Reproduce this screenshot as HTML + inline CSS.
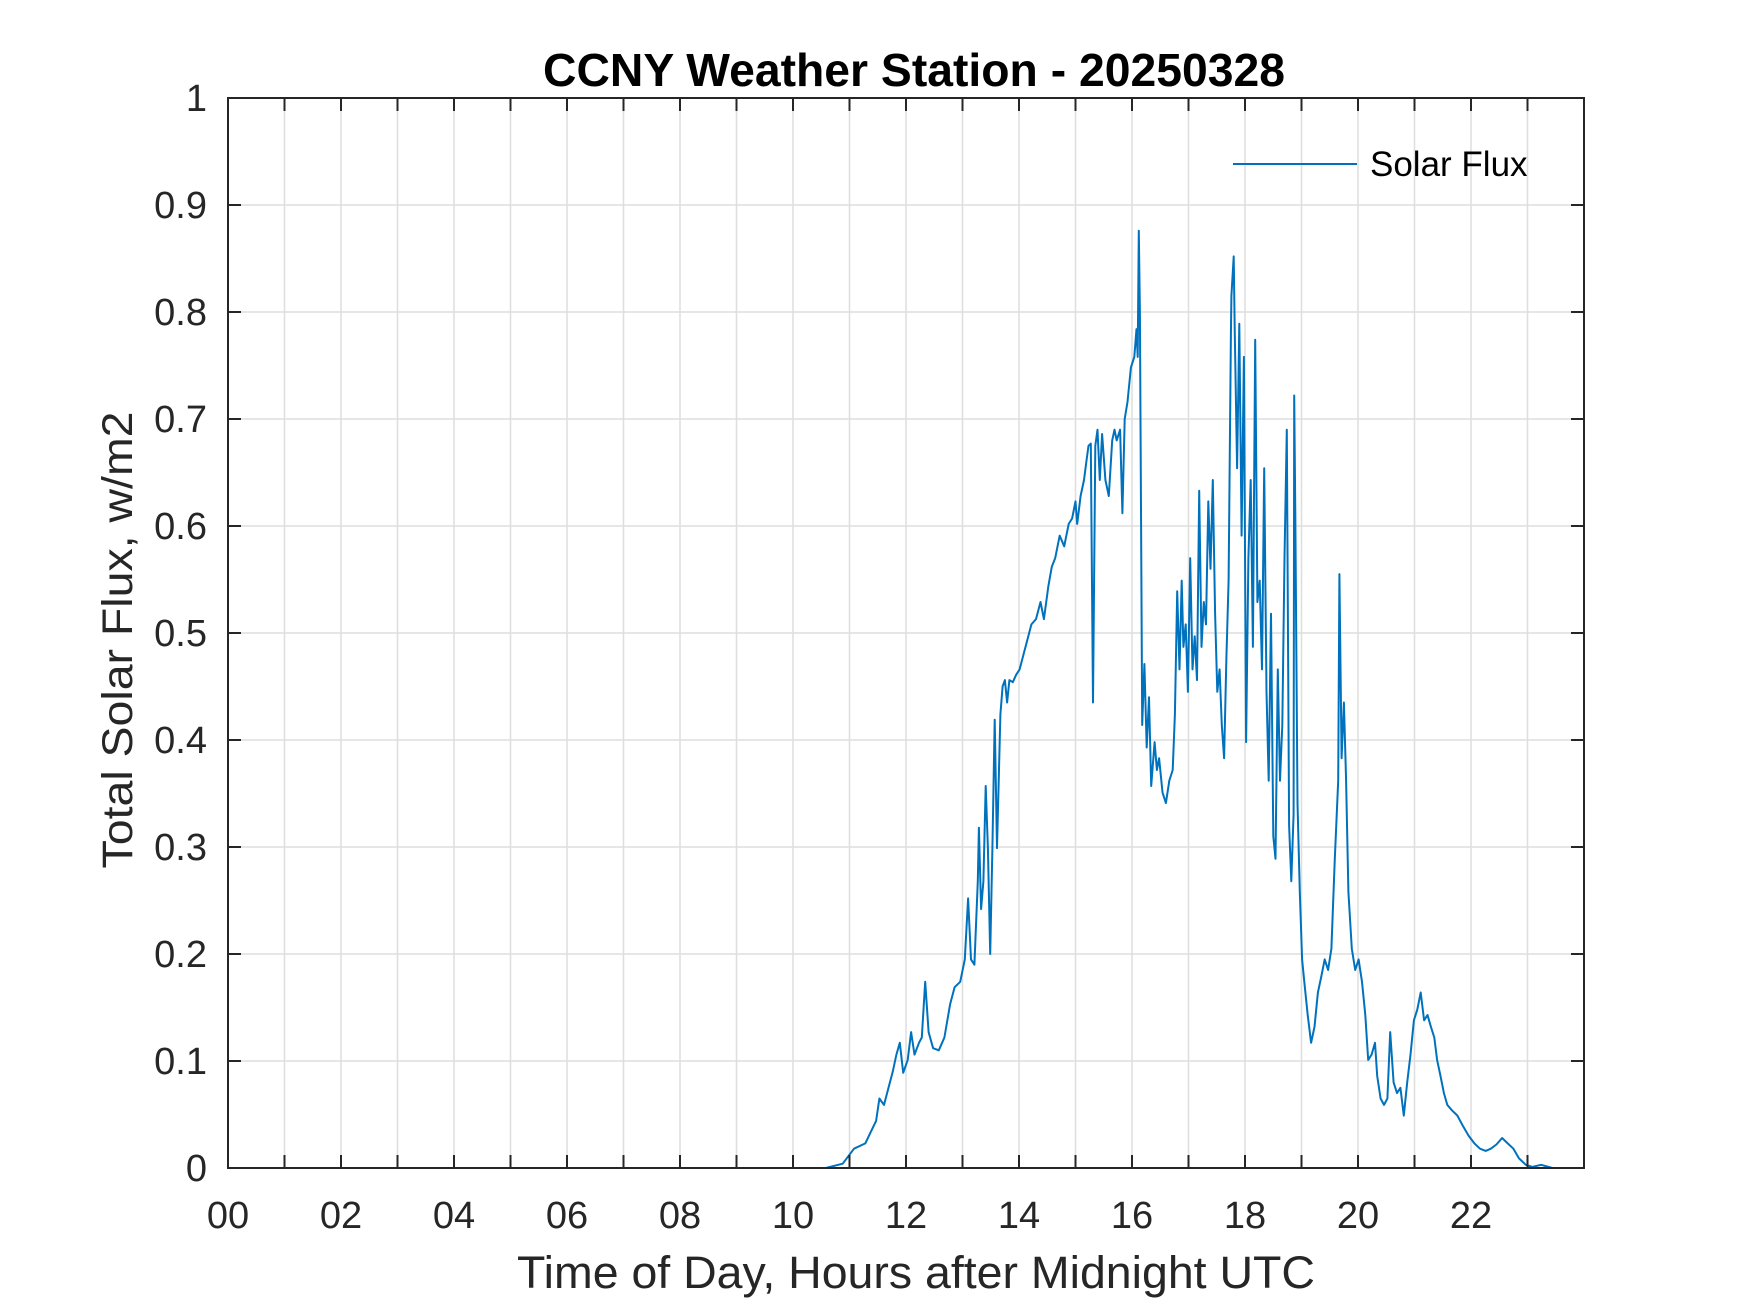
<!DOCTYPE html>
<html><head><meta charset="utf-8"><style>
html,body{margin:0;padding:0;background:#fff;}
svg{display:block;font-family:"Liberation Sans",Arial,sans-serif;}
</style></head>
<body>
<svg id="chart" width="1750" height="1313" viewBox="0 0 1750 1313" xmlns="http://www.w3.org/2000/svg">
<rect width="1750" height="1313" fill="#fff"/>
<g id="grid"></g>
<g id="series"></g>
<rect x="228" y="98" width="1356" height="1070" fill="none" stroke="#262626" stroke-width="2"/>
<g id="ticks"></g>
<text x="914" y="86" text-anchor="middle" font-size="46" font-weight="bold" fill="#000" textLength="742" lengthAdjust="spacingAndGlyphs">CCNY Weather Station - 20250328</text>
<text x="916" y="1288" text-anchor="middle" font-size="45" fill="#262626" textLength="798" lengthAdjust="spacingAndGlyphs">Time of Day, Hours after Midnight UTC</text>
<text transform="translate(132,640) rotate(-90)" text-anchor="middle" font-size="43" fill="#262626" textLength="457" lengthAdjust="spacingAndGlyphs">Total Solar Flux, w/m2</text>
<g>
<line x1="1233" y1="164" x2="1357" y2="164" stroke="#0072BD" stroke-width="2"/>
<text x="1370" y="176" font-size="35" fill="#000">Solar Flux</text>
</g>
</svg>
<script>
const xTickLabels = ["00","02","04","06","08","10","12","14","16","18","20","22"];
const yTickLabels = ["0","0.1","0.2","0.3","0.4","0.5","0.6","0.7","0.8","0.9","1"];
const hours = [0,10.58,10.88,11.08,11.28,11.37,11.47,11.53,11.61,11.69,11.77,11.83,11.89,11.95,12.03,12.09,12.15,12.23,12.28,12.34,12.40,12.48,12.58,12.68,12.78,12.86,12.96,13.04,13.10,13.15,13.21,13.27,13.29,13.33,13.37,13.41,13.45,13.49,13.53,13.57,13.61,13.67,13.71,13.75,13.79,13.83,13.89,13.95,14.01,14.09,14.14,14.22,14.30,14.38,14.44,14.52,14.58,14.64,14.72,14.80,14.88,14.94,15.00,15.03,15.09,15.15,15.19,15.23,15.27,15.31,15.35,15.39,15.43,15.47,15.53,15.59,15.65,15.69,15.73,15.79,15.83,15.87,15.92,15.98,16.04,16.08,16.10,16.12,16.14,16.18,16.22,16.26,16.30,16.34,16.40,16.44,16.48,16.54,16.60,16.66,16.72,16.76,16.80,16.84,16.88,16.91,16.95,16.99,17.03,17.07,17.11,17.15,17.19,17.23,17.27,17.31,17.35,17.39,17.43,17.47,17.51,17.55,17.59,17.63,17.67,17.71,17.75,17.76,17.80,17.82,17.86,17.90,17.94,17.98,18.02,18.06,18.10,18.14,18.18,18.22,18.26,18.30,18.34,18.38,18.42,18.46,18.50,18.54,18.58,18.62,18.66,18.70,18.74,18.78,18.82,18.86,18.87,18.89,18.93,18.97,19.01,19.05,19.11,19.17,19.23,19.29,19.35,19.41,19.47,19.53,19.59,19.65,19.67,19.71,19.75,19.79,19.83,19.89,19.95,20.01,20.07,20.13,20.18,20.24,20.30,20.34,20.40,20.46,20.52,20.57,20.63,20.69,20.75,20.81,20.87,20.93,20.99,21.05,21.11,21.17,21.23,21.29,21.35,21.40,21.46,21.52,21.58,21.66,21.76,21.86,21.96,22.06,22.16,22.26,22.35,22.45,22.55,22.65,22.75,22.85,22.97,23.09,23.24,23.44,23.99];
const flux = [0,0,0.004,0.018,0.023,0.033,0.044,0.065,0.059,0.075,0.091,0.106,0.117,0.089,0.101,0.127,0.106,0.117,0.122,0.174,0.127,0.112,0.11,0.122,0.153,0.169,0.174,0.195,0.252,0.195,0.19,0.268,0.318,0.242,0.268,0.357,0.299,0.2,0.299,0.419,0.299,0.424,0.45,0.456,0.435,0.456,0.454,0.461,0.466,0.482,0.492,0.508,0.513,0.529,0.513,0.544,0.562,0.57,0.591,0.581,0.602,0.607,0.623,0.602,0.628,0.643,0.659,0.675,0.677,0.435,0.675,0.69,0.643,0.686,0.643,0.628,0.68,0.69,0.68,0.69,0.612,0.7,0.716,0.748,0.758,0.784,0.758,0.876,0.8,0.414,0.471,0.393,0.44,0.357,0.398,0.372,0.383,0.351,0.341,0.362,0.372,0.424,0.539,0.466,0.549,0.487,0.508,0.445,0.57,0.466,0.497,0.456,0.633,0.487,0.529,0.508,0.623,0.56,0.643,0.518,0.445,0.466,0.414,0.383,0.477,0.549,0.779,0.815,0.852,0.779,0.654,0.789,0.591,0.758,0.398,0.57,0.643,0.487,0.774,0.529,0.549,0.466,0.654,0.445,0.362,0.518,0.31,0.289,0.466,0.362,0.414,0.57,0.69,0.32,0.268,0.331,0.722,0.612,0.341,0.258,0.195,0.174,0.143,0.117,0.132,0.164,0.179,0.195,0.185,0.205,0.289,0.362,0.555,0.383,0.435,0.362,0.258,0.205,0.185,0.195,0.174,0.143,0.101,0.106,0.117,0.086,0.065,0.059,0.065,0.127,0.08,0.07,0.075,0.049,0.08,0.106,0.138,0.148,0.164,0.138,0.143,0.132,0.122,0.101,0.086,0.07,0.059,0.054,0.049,0.039,0.03,0.023,0.018,0.016,0.018,0.022,0.028,0.023,0.018,0.009,0.003,0.001,0.003,0,0];

const NS = "http://www.w3.org/2000/svg";
const L = 228, R = 1584, T = 98, B = 1168;
const xScale = h => L + (h / 24) * (R - L);
const yScale = v => B - v * (B - T);
const grid = document.getElementById('grid');
const ticks = document.getElementById('ticks');
const series = document.getElementById('series');
function mk(tag, attrs, parent) {
  const e = document.createElementNS(NS, tag);
  for (const k in attrs) e.setAttribute(k, attrs[k]);
  parent.appendChild(e);
  return e;
}
for (let h = 1; h < 24; h++) {
  const x = xScale(h);
  const g = mk('line', {x1: x, y1: T, x2: x, y2: B, stroke: '#dedede', 'stroke-width': 1.5}, grid);
  
  
  const t1 = mk('line', {x1: x, y1: B, x2: x, y2: B - 13, stroke: '#262626', 'stroke-width': 2}, ticks);
  
  
  const t2 = mk('line', {x1: x, y1: T, x2: x, y2: T + 13, stroke: '#262626', 'stroke-width': 2}, ticks);
  
  
}
xTickLabels.forEach((lab, i) => {
  const t = mk('text', {x: xScale(i * 2), y: 1228, 'text-anchor': 'middle', 'font-size': 38, fill: '#262626'}, ticks);
  t.textContent = lab;
  
  
});
yTickLabels.forEach((lab, i) => {
  const v = i / 10;
  const y = yScale(v);
  if (i > 0 && i < 10) {
    const g = mk('line', {x1: L, y1: y, x2: R, y2: y, stroke: '#dedede', 'stroke-width': 1.5}, grid);
    
    
    const t1 = mk('line', {x1: L, y1: y, x2: L + 13, y2: y, stroke: '#262626', 'stroke-width': 2}, ticks);
    
    
    const t2 = mk('line', {x1: R, y1: y, x2: R - 13, y2: y, stroke: '#262626', 'stroke-width': 2}, ticks);
    
    
  }
  const t = mk('text', {x: 207, y: y + 13, 'text-anchor': 'end', 'font-size': 38, fill: '#262626'}, ticks);
  t.textContent = lab;
  
  
});
const pts = hours.map((h, i) => xScale(h).toFixed(1) + ',' + yScale(flux[i]).toFixed(1)).join(' ');
const line = mk('polyline', {points: pts, fill: 'none', stroke: '#0072BD', 'stroke-width': 2, 'stroke-linejoin': 'round'}, series);


</script>
</body></html>
